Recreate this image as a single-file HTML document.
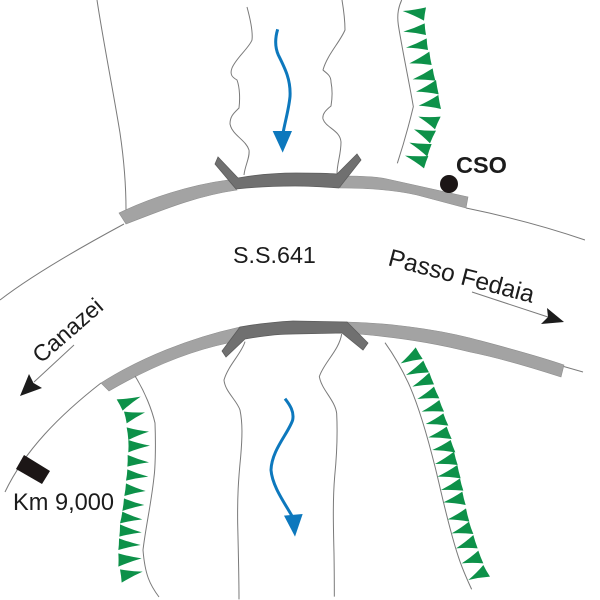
<!DOCTYPE html>
<html><head><meta charset="utf-8"><style>
html,body{margin:0;padding:0;background:#fff}
svg{display:block}
text{font-family:"Liberation Sans",Arial,sans-serif;fill:#1a1a1a}
.l{fill:none;stroke:#7a7a7a;stroke-width:3}
.t{fill:none;stroke:#7a7a7a;stroke-width:1}
.g use{fill:#0a9148}
</style></head><body>
<svg width="600" height="600" viewBox="0 0 600 600" xmlns="http://www.w3.org/2000/svg" xmlns:xlink="http://www.w3.org/1999/xlink">
<defs>
<path id="v" d="M0 0Q.45 .07 1 0Q.49 .49 0 1Q.07 .45 0 0Z"/>
<filter id="b" x="0" y="0" width="100%" height="100%"><feGaussianBlur stdDeviation=".35"/></filter>
</defs>
<rect width="600" height="600" fill="#fff"/>
<g filter="url(#b)">
<path class="t" d="M97 0C103 40 113 90 120 133C124 160 126 185 126 210"/>
<path class="t" d="M0 300C35 273 85 245 124 224"/>
<path class="t" d="M466 208C510 217 550 228 585 240"/>
<path class="t" d="M101 383C60 415 25 450 5 492"/>
<path class="t" d="M562 366L583 372"/>
<path class="t" d="M247 7C250 18 253 32 252 40C249 48 236 58 232 68C229 76 234 78 237 80C240 88 240 100 239 108C234 113 230 116 230 124C232 135 246 140 249 150C250 158 245 165 244 175"/>
<path class="t" d="M342 0C344 12 345 22 345 30C340 42 327 55 323 70C326 73 331 75 331 82C333 92 332 100 331 106C326 110 322 114 323 119C326 128 340 130 341 142C341 155 337 163 337 174"/>
<g transform="translate(200,310) scale(.33333)">
<path class="l" d="M135 95C125 130 85 165 72 210C75 245 110 270 120 300C128 340 127 380 122 440C115 510 112 560 113 640C115 720 117 800 117 868"/>
<path class="l" d="M425 72C418 120 370 160 358 200C365 240 405 270 410 310C413 370 410 440 404 500C398 570 400 650 402 730C403 790 403 830 403 860"/>
<path d="M255 266C270 285 283 305 278 330C265 370 215 420 213 480C217 530 255 580 280 625" fill="none" stroke="#0a78bd" stroke-width="9"/>
<polygon points="252,617 308,612 285,680" fill="#0a78bd"/>
</g>
<g transform="translate(100,0) scale(.33333)">
<path d="M533 88C525 115 524 140 535 165C555 205 573 240 570 290C566 330 555 365 549 400" fill="none" stroke="#0a78bd" stroke-width="9"/>
<polygon points="518,393 576,393 548,458" fill="#0a78bd"/>
</g>
<!-- upper bands -->
<path d="M119 213C150 198 190 185 228 180L237 190C195 196 160 211 126 224Z" fill="#a3a3a3" stroke="#8e8e8e" stroke-width=".6"/>
<path d="M345 176C365 176 378 177 387 179L468 197L466 208L417 195C395 190 370 188 340 188Z" fill="#a3a3a3" stroke="#8e8e8e" stroke-width=".6"/>
<path d="M218 157L215 164L236 189C255 187 275 186 295 186C310 186 325 187 339 188L361 160L357 154L337 174C325 173 312 173 296 173C275 173 255 175 238 178Z" fill="#707070" stroke="#5c5c5c" stroke-width=".8"/>
<!-- lower bands -->
<path d="M101 383C140 358 190 338 240 327L228 343C185 352 145 370 109 391Z" fill="#a3a3a3" stroke="#8e8e8e" stroke-width=".6"/>
<path d="M347 322C385 323 430 328 470 338C500 346 535 355 564 365L561 377C530 367 500 358 470 352C435 343 395 337 358 334Z" fill="#a3a3a3" stroke="#8e8e8e" stroke-width=".6"/>
<path d="M222 351L226 357L245 339C262 336 278 334 293 334L342 333L363 350L368 343L347 322L293 321C275 322 257 324 240 327Z" fill="#707070" stroke="#5c5c5c" stroke-width=".8"/>
<!-- upper right green -->
<path class="l" transform="translate(350,0) scale(.33333)" d="M155 0C147 18 140 40 145 75C155 140 180 260 190 320C178 370 155 450 142 490"/>
<g class="g" transform="translate(350,0) scale(.33333)">
<use href="#v" transform="matrix(70,-11,64,29,158,33)"/>
<use href="#v" transform="matrix(64,-25,68,10,160,95)"/>
<use href="#v" transform="matrix(62,-28,66,7,168,143)"/>
<use href="#v" transform="matrix(60,-35,67,5,178,190)"/>
<use href="#v" transform="matrix(60,-33,68,4,188,238)"/>
<use href="#v" transform="matrix(60,-35,68,8,198,275)"/>
<use href="#v" transform="matrix(59,-32,67,10,206,317)"/>
<use href="#v" transform="matrix(67,0,50,38,205,350)"/>
<use href="#v" transform="matrix(66,4,48,42,192,388)"/>
<use href="#v" transform="matrix(67,4,54,42,178,428)"/>
<use href="#v" transform="matrix(70,1,57,38,165,467)"/>
</g>
<!-- lower left green -->
<path class="t" d="M135 376C145 392 152 410 155 423C156 450 155 470 154 477C151 505 146 525 143 550C145 575 150 585 159 597"/>
<g class="g" transform="translate(0,290) scale(.33333)">
<use href="#v" transform="matrix(-72,8,-54,42,422,320)"/>
<use href="#v" transform="matrix(-63,-2,-55,33,435,367)"/>
<use href="#v" transform="matrix(-67,-13,-62,25,447,425)"/>
<use href="#v" transform="matrix(-65,-17,-65,20,450,467)"/>
<use href="#v" transform="matrix(-64,-22,-65,13,447,517)"/>
<use href="#v" transform="matrix(-63,-22,-67,12,445,560)"/>
<use href="#v" transform="matrix(-59,-23,-64,15,437,603)"/>
<use href="#v" transform="matrix(-61,-20,-66,18,433,645)"/>
<use href="#v" transform="matrix(-60,-23,-67,12,427,688)"/>
<use href="#v" transform="matrix(-65,-24,-67,13,425,727)"/>
<use href="#v" transform="matrix(-65,-20,-67,15,422,765)"/>
<use href="#v" transform="matrix(-70,-15,-70,25,425,805)"/>
<use href="#v" transform="matrix(-68,-7,-63,33,428,845)"/>
</g>
<!-- lower right green -->
<path class="l" transform="translate(380,240) scale(.33333)" d="M15 308C45 350 70 395 90 440C120 510 145 600 165 680C185 760 205 860 235 950C248 990 262 1020 275 1048"/>
<g class="g" transform="translate(380,240) scale(.33333)">
<use href="#v" transform="matrix(45,-48,66,-13,62,370)"/>
<use href="#v" transform="matrix(52,-43,69,-8,78,405)"/>
<use href="#v" transform="matrix(51,-42,65,-7,97,440)"/>
<use href="#v" transform="matrix(50,-37,66,-2,112,477)"/>
<use href="#v" transform="matrix(53,-35,67,0,125,515)"/>
<use href="#v" transform="matrix(53,-32,68,5,137,552)"/>
<use href="#v" transform="matrix(55,-32,70,5,145,592)"/>
<use href="#v" transform="matrix(55,-30,69,7,157,630)"/>
<use href="#v" transform="matrix(57,-37,68,3,165,672)"/>
<use href="#v" transform="matrix(60,-35,70,5,172,710)"/>
<use href="#v" transform="matrix(57,-35,67,2,183,750)"/>
<use href="#v" transform="matrix(57,-32,67,8,190,787)"/>
<use href="#v" transform="matrix(55,-33,65,7,203,838)"/>
<use href="#v" transform="matrix(52,-35,65,2,215,880)"/>
<use href="#v" transform="matrix(52,-40,65,0,228,925)"/>
<use href="#v" transform="matrix(50,-38,65,0,245,970)"/>
<use href="#v" transform="matrix(45,-45,65,-10,265,1020)"/>
</g>
<!-- arrows -->
<path class="t" d="M472 292L548 317"/>
<polygon points="547,308 548,317 541,324 564,322" fill="#1a1a1a"/>
<path class="t" d="M74 345L34 382"/>
<polygon points="29,374 33.5,383 42,388 20,396" fill="#1a1a1a"/>
<!-- markers -->
<polygon points="24,455 50,471 42,484 16,469" fill="#1a1715"/>
<circle cx="449" cy="184" r="9" fill="#1a1715"/>
<!-- text -->
<text x="233" y="263" font-size="23.3">S.S.641</text>
<text x="456" y="173" font-size="23.5" font-weight="bold">CSO</text>
<text x="13" y="510" font-size="23.6">Km 9,000</text>
<text transform="translate(387,265) rotate(14.7)" font-size="24.5">Passo Fedaia</text>
<text transform="translate(41,364) rotate(-41)" font-size="23">Canazei</text>
</g>
</svg>
</body></html>
